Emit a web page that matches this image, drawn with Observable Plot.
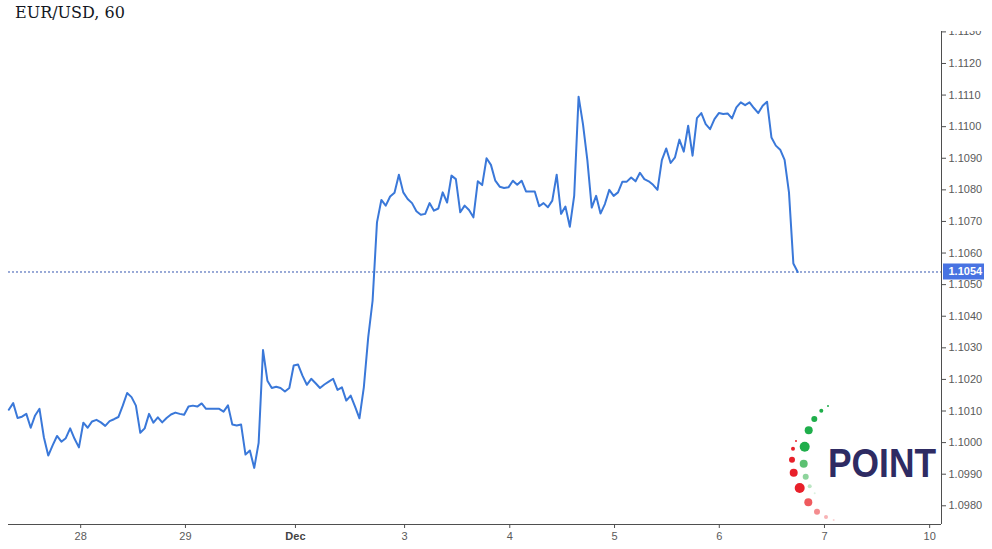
<!DOCTYPE html>
<html><head><meta charset="utf-8">
<script src="https://cdn.jsdelivr.net/npm/d3@7"></script>
<script src="https://cdn.jsdelivr.net/npm/@observablehq/plot@0.6"></script>
<style>
body{margin:0;background:#fff;}
#wrap{position:relative;width:992px;height:549px;overflow:hidden;background:#fff;}
#title{box-sizing:border-box;height:31px;padding:3px 0 0 15px;font:16px/20px "DejaVu Serif",serif;color:#131722;}
#logo{position:absolute;left:0;top:0;pointer-events:none;}
</style></head><body>
<div id="wrap"><div id="title">EUR/USD, 60</div><div id="chart"></div></div>
<script>
// hourly closes, EUR/USD (bar index 0..180)
const closes = [
1.10104,1.10125,1.10078,1.10082,1.10091,1.10047,1.10086,1.10107,1.10017,1.09959,
1.09991,1.10021,1.10003,1.10014,1.10045,1.10012,1.09985,1.10063,1.10047,1.10067,
1.10072,1.10064,1.10053,1.10068,1.10074,1.10081,1.10117,1.10157,1.10144,1.10117,
1.10031,1.10045,1.10091,1.10063,1.10080,1.10064,1.10078,1.10089,1.10095,1.10091,
1.10088,1.10114,1.10117,1.10114,1.10124,1.10107,1.10107,1.10107,1.10107,1.10098,
1.10118,1.10057,1.10054,1.10057,1.09962,1.09975,1.09920,1.09999,1.10293,1.10196,
1.10173,1.10177,1.10173,1.10162,1.10173,1.10244,1.10247,1.10212,1.10183,1.10202,
1.10188,1.10173,1.10184,1.10193,1.10202,1.10167,1.10175,1.10133,1.10149,1.10114,
1.10077,1.10175,1.10333,1.10449,1.10697,1.10768,1.10750,1.10779,1.10791,1.10848,
1.10792,1.10771,1.10758,1.10732,1.10721,1.10724,1.10758,1.10734,1.10741,1.10792,
1.10760,1.10845,1.10834,1.10729,1.10750,1.10736,1.10713,1.10827,1.10815,1.10900,
1.10879,1.10829,1.10810,1.10806,1.10808,1.10829,1.10816,1.10829,1.10795,1.10795,
1.10795,1.10748,1.10758,1.10745,1.10766,1.10848,1.10724,1.10747,1.10683,1.10782,
1.11095,1.11008,1.10894,1.10744,1.10781,1.10725,1.10755,1.10800,1.10781,1.10792,
1.10826,1.10826,1.10839,1.10827,1.10854,1.10834,1.10827,1.10816,1.10800,1.10894,
1.10931,1.10885,1.10903,1.10959,1.10921,1.11003,1.10908,1.11027,1.11043,1.11008,
1.10992,1.11024,1.11043,1.11040,1.11042,1.11026,1.11061,1.11077,1.11068,1.11077,
1.11059,1.11043,1.11066,1.11079,1.10966,1.10940,1.10927,1.10895,1.10792,1.10567,
1.1054
];
const xTickPos = [16.4, 40.3, 65.4, 90.3, 114.3, 138.2, 162.1, 186.1, 210.1];
const xTickLabels = ["28", "29", "Dec", "3", "4", "5", "6", "7", "10"];
const yTicks = [1.098,1.099,1.100,1.101,1.102,1.103,1.104,1.105,1.106,1.107,1.108,1.109,1.110,1.111,1.112,1.113];
const lastPrice = 1.1054;
const xDomain = [-0.07, 212.8];
const yDomain = [1.097408, 1.113012];

const data = closes.map((v, i) => ({i, v}));
const fmt = d3.format(".4f");
const axisColor = "#4f4f4f";

const plot = Plot.plot({
  width: 992, height: 518,
  marginLeft: 8, marginRight: 51, marginTop: 0, marginBottom: 25,
  style: {fontFamily: '"Liberation Sans", Arial, sans-serif', fontSize: "11px", color: "#5a5a5a", background: "#fff"},
  x: {domain: xDomain, label: null},
  y: {domain: yDomain, label: null},
  marks: [
    Plot.ruleY([lastPrice], {stroke: "#3556b0", strokeDasharray: "2,2", strokeWidth: 1}),
    Plot.line(data, {x: "i", y: "v", stroke: "#3a78d9", strokeWidth: 2}),
    Plot.ruleX([xDomain[1]], {stroke: axisColor, strokeWidth: 1}),
    Plot.ruleY([yDomain[0]], {stroke: axisColor, strokeWidth: 1}),
    Plot.axisY(yTicks, {anchor: "right", tickSize: 4, tickPadding: 3, tickFormat: fmt, stroke: axisColor, fill: "#5a5a5a", label: null}),
    Plot.axisX(xTickPos, {anchor: "bottom", tickSize: 4, tickPadding: 4, tickFormat: d => xTickLabels[xTickPos.indexOf(d)], stroke: axisColor, fill: "#5a5a5a", label: null})
  ]
});
document.getElementById("chart").appendChild(plot);

// bold month label
d3.select(plot).selectAll("text").filter(function(){ return this.textContent === "Dec"; })
  .attr("font-weight", "bold").attr("fill", "#444");

// last price tag on the price axis
const ySc = plot.scale("y"), xSc = plot.scale("x");
const yp = ySc.apply(lastPrice), xr = xSc.range[1];
const tag = d3.select(plot).append("g");
tag.append("rect").attr("x", xr + 2).attr("y", yp - 8).attr("width", 41).attr("height", 16).attr("fill", "#4873e2");
tag.append("text").attr("x", xr + 7.5).attr("y", yp).attr("dy", "0.35em").attr("text-anchor", "start")
  .attr("fill", "#fff").attr("font-weight", "bold").attr("font-size", 11)
  .attr("font-family", '"Liberation Sans", Arial, sans-serif').text(fmt(lastPrice));

// watermark logo
const greens = [[828,406,1,"#1fae4b"],[821.3,410.7,2,"#1fae4b"],[814.3,419,3,"#1fae4b"],[808.7,430.3,4,"#1fae4b"],[804.7,446.7,5,"#1fae4b"],[803.7,463.7,4,"#5cc172"],[805.7,476.7,3,"#8ed49c"],[809.7,486.3,2,"#bce6c4"],[814.7,493.3,1,"#dcf2e0"]];
const reds = [[796,441,1,"#e8202a"],[793,448.7,2,"#e8202a"],[792,459.7,3,"#e8202a"],[793.7,472.7,4,"#e8202a"],[799.7,488,5,"#e8202a"],[808.3,502.3,4,"#ef5a5e"],[817,511.7,3,"#f48c8f"],[826,517,2,"#f8b3b5"],[833.7,520,1,"#fbd3d4"]];
const logo = d3.select("#wrap").append("svg").attr("id", "logo").attr("width", 992).attr("height", 549);
logo.selectAll("circle").data(greens.concat(reds)).join("circle")
  .attr("cx", d => d[0]).attr("cy", d => d[1]).attr("r", d => d[2]).attr("fill", d => d[3]);
logo.append("text").attr("x", 828).attr("y", 476.7).attr("font-size", 40)
  .attr("font-family", '"Liberation Sans", Arial, sans-serif').attr("font-weight", "bold")
  .attr("fill", "#2e2b63").attr("textLength", 108).attr("lengthAdjust", "spacingAndGlyphs").text("POINT");
</script>
</body></html>
